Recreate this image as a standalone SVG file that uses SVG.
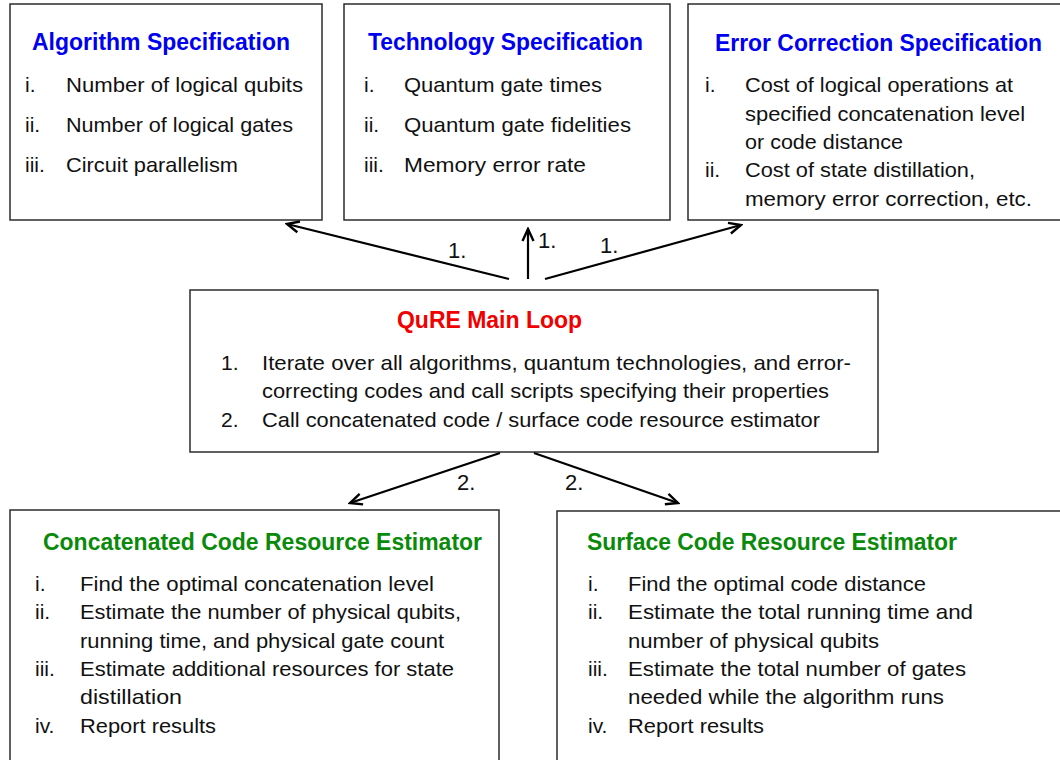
<svg xmlns="http://www.w3.org/2000/svg" width="1060" height="760" viewBox="0 0 1060 760">
<defs>
<style>
.box{fill:#fff;stroke:#2b2b2b;stroke-width:1.5}
.t{font-family:"Liberation Sans",Arial,sans-serif;font-weight:bold;font-size:23px}
.blue{fill:#0000f0}
.red{fill:#f00000}
.green{fill:#0a8a0a}
.b{font-family:"Liberation Sans",Arial,sans-serif;font-size:21px;fill:#111}
.lbl{font-family:"Liberation Sans",Arial,sans-serif;font-size:22px;fill:#111}
.c{stroke:#000;stroke-width:2.2;fill:none;marker-end:url(#ah)}
</style>
<marker id="ah" markerUnits="userSpaceOnUse" viewBox="0 0 16 14" markerWidth="16" markerHeight="14" refX="14" refY="7" orient="auto">
<path d="M2,1.5 L14,7 L2,12.5" fill="none" stroke="#000" stroke-width="2.4"/>
</marker>
</defs>
<rect width="1060" height="760" fill="#fff"/>

<g id="algorithm">
<rect class="box" x="10" y="4" width="312" height="216"/>
<text class="t blue" x="32" y="50" textLength="258" lengthAdjust="spacingAndGlyphs">Algorithm Specification</text>
<text class="b" x="25" y="92">i.</text>
<text class="b" x="66" y="92" textLength="237" lengthAdjust="spacingAndGlyphs">Number of logical qubits</text>
<text class="b" x="25" y="132">ii.</text>
<text class="b" x="66" y="132" textLength="227" lengthAdjust="spacingAndGlyphs">Number of logical gates</text>
<text class="b" x="25" y="172">iii.</text>
<text class="b" x="66" y="172" textLength="172" lengthAdjust="spacingAndGlyphs">Circuit parallelism</text>
</g>

<g id="technology">
<rect class="box" x="344" y="4" width="326" height="216"/>
<text class="t blue" x="368" y="50" textLength="275" lengthAdjust="spacingAndGlyphs">Technology Specification</text>
<text class="b" x="364" y="92">i.</text>
<text class="b" x="404" y="92" textLength="198" lengthAdjust="spacingAndGlyphs">Quantum gate times</text>
<text class="b" x="364" y="132">ii.</text>
<text class="b" x="404" y="132" textLength="227" lengthAdjust="spacingAndGlyphs">Quantum gate fidelities</text>
<text class="b" x="364" y="172">iii.</text>
<text class="b" x="404" y="172" textLength="182" lengthAdjust="spacingAndGlyphs">Memory error rate</text>
</g>

<g id="errorcorrection">
<rect class="box" x="688" y="4" width="380" height="216"/>
<text class="t blue" x="715" y="51" textLength="327" lengthAdjust="spacingAndGlyphs">Error Correction Specification</text>
<text class="b" x="705" y="92">i.</text>
<text class="b" x="745" y="92" textLength="268" lengthAdjust="spacingAndGlyphs">Cost of logical operations at</text>
<text class="b" x="745" y="120.5" textLength="280" lengthAdjust="spacingAndGlyphs">specified concatenation level</text>
<text class="b" x="745" y="149" textLength="158" lengthAdjust="spacingAndGlyphs">or code distance</text>
<text class="b" x="705" y="177">ii.</text>
<text class="b" x="745" y="177" textLength="230" lengthAdjust="spacingAndGlyphs">Cost of state distillation,</text>
<text class="b" x="745" y="205.5" textLength="287" lengthAdjust="spacingAndGlyphs">memory error correction, etc.</text>
</g>

<g id="mainloop">
<rect class="box" x="190" y="290" width="688" height="162"/>
<text class="t red" x="397" y="328" textLength="185" lengthAdjust="spacingAndGlyphs">QuRE Main Loop</text>
<text class="b" x="221" y="370">1.</text>
<text class="b" x="262" y="370" textLength="589" lengthAdjust="spacingAndGlyphs">Iterate over all algorithms, quantum technologies, and error-</text>
<text class="b" x="262" y="398" textLength="567" lengthAdjust="spacingAndGlyphs">correcting codes and call scripts specifying their properties</text>
<text class="b" x="221" y="427">2.</text>
<text class="b" x="262" y="427" textLength="558" lengthAdjust="spacingAndGlyphs">Call concatenated code / surface code resource estimator</text>
</g>

<g id="concatenated">
<rect class="box" x="10" y="510" width="489" height="270"/>
<text class="t green" x="43" y="550" textLength="439" lengthAdjust="spacingAndGlyphs">Concatenated Code Resource Estimator</text>
<text class="b" x="35" y="591">i.</text>
<text class="b" x="80" y="591" textLength="354" lengthAdjust="spacingAndGlyphs">Find the optimal concatenation level</text>
<text class="b" x="35" y="619">ii.</text>
<text class="b" x="80" y="619" textLength="381" lengthAdjust="spacingAndGlyphs">Estimate the number of physical qubits,</text>
<text class="b" x="80" y="647.5" textLength="364" lengthAdjust="spacingAndGlyphs">running time, and physical gate count</text>
<text class="b" x="35" y="676">iii.</text>
<text class="b" x="80" y="676" textLength="374" lengthAdjust="spacingAndGlyphs">Estimate additional resources for state</text>
<text class="b" x="80" y="704" textLength="102" lengthAdjust="spacingAndGlyphs">distillation</text>
<text class="b" x="35" y="732.5">iv.</text>
<text class="b" x="80" y="732.5" textLength="136" lengthAdjust="spacingAndGlyphs">Report results</text>
</g>

<g id="surface">
<rect class="box" x="557" y="511" width="520" height="270"/>
<text class="t green" x="587" y="550" textLength="370" lengthAdjust="spacingAndGlyphs">Surface Code Resource Estimator</text>
<text class="b" x="588" y="591">i.</text>
<text class="b" x="628" y="591" textLength="298" lengthAdjust="spacingAndGlyphs">Find the optimal code distance</text>
<text class="b" x="588" y="619">ii.</text>
<text class="b" x="628" y="619" textLength="345" lengthAdjust="spacingAndGlyphs">Estimate the total running time and</text>
<text class="b" x="628" y="647.5" textLength="251" lengthAdjust="spacingAndGlyphs">number of physical qubits</text>
<text class="b" x="588" y="676">iii.</text>
<text class="b" x="628" y="676" textLength="338" lengthAdjust="spacingAndGlyphs">Estimate the total number of gates</text>
<text class="b" x="628" y="704" textLength="316" lengthAdjust="spacingAndGlyphs">needed while the algorithm runs</text>
<text class="b" x="588" y="732.5">iv.</text>
<text class="b" x="628" y="732.5" textLength="136" lengthAdjust="spacingAndGlyphs">Report results</text>
</g>

<g id="connectors">
<line class="c" x1="509" y1="279" x2="287" y2="224"/>
<line class="c" x1="528" y1="279" x2="528" y2="229"/>
<line class="c" x1="545" y1="279" x2="741" y2="225"/>
<line class="c" x1="500" y1="453" x2="350" y2="503"/>
<line class="c" x1="534" y1="453" x2="678" y2="503"/>
<text class="lbl" x="448" y="258">1.</text>
<text class="lbl" x="538" y="248">1.</text>
<text class="lbl" x="600" y="253">1.</text>
<text class="lbl" x="457" y="490">2.</text>
<text class="lbl" x="565" y="490">2.</text>
</g>
</svg>
